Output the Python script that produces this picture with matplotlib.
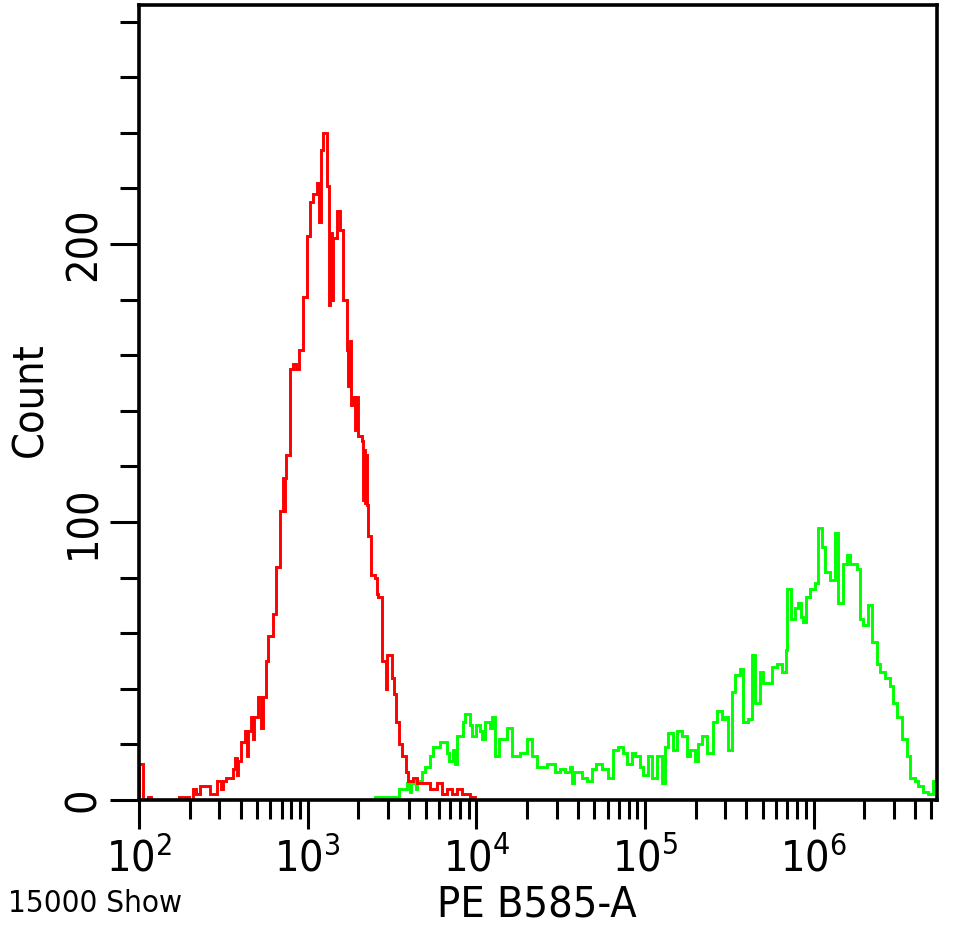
import matplotlib
matplotlib.use('Agg')
import matplotlib.pyplot as plt
import numpy as np
from matplotlib import font_manager
from matplotlib.ticker import FixedLocator, LogLocator, NullFormatter

# ---------------- data ----------------
# histogram step edges (log10 of PE B585-A intensity) and counts
red_log_edges = [2.000, 2.024, 2.053, 2.071, 2.237, 2.297, 2.320, 2.338, 2.362, 2.421,
                 2.463, 2.487, 2.500, 2.516, 2.558, 2.569, 2.581, 2.587, 2.605, 2.629,
                 2.641, 2.647, 2.664, 2.676, 2.682, 2.706, 2.724, 2.735, 2.753, 2.765,
                 2.795, 2.813, 2.836, 2.854, 2.860, 2.866, 2.872, 2.896, 2.913, 2.931,
                 2.949, 2.973, 2.996, 3.014, 3.032, 3.056, 3.068, 3.080, 3.091, 3.115,
                 3.124, 3.133, 3.142, 3.151, 3.174, 3.192, 3.210, 3.234, 3.240, 3.246,
                 3.251, 3.257, 3.269, 3.281, 3.287, 3.299, 3.323, 3.329, 3.335, 3.341,
                 3.347, 3.353, 3.358, 3.376, 3.400, 3.409, 3.418, 3.441, 3.459, 3.465,
                 3.471, 3.501, 3.512, 3.524, 3.542, 3.560, 3.584, 3.596, 3.625, 3.649,
                 3.726, 3.767, 3.797, 3.827, 3.856, 3.886, 3.916, 3.963, 3.993]
red_counts = [13, 0, 1, 0, 1, 0, 4, 2, 5, 2,
              7, 4, 7, 8, 11, 15, 9, 14, 21, 25,
              16, 25, 30, 22, 30, 37, 26, 37, 50, 59,
              67, 84, 104, 116, 104, 116, 124, 155, 157, 155,
              162, 181, 203, 215, 218, 222, 208, 234, 240, 221,
              178, 204, 180, 202, 212, 205, 180, 162, 149, 162,
              165, 142, 145, 133, 145, 131, 129, 108, 126, 107,
              124, 106, 95, 81, 80, 74, 73, 50, 50, 40,
              52, 44, 38, 28, 20, 16, 10, 7, 8, 6,
              4, 6, 2, 4, 2, 4, 2, 1]

green_log_edges = [3.400, 3.542, 3.590, 3.605, 3.614, 3.625, 3.643, 3.649, 3.678, 3.696,
                   3.726, 3.744, 3.785, 3.827, 3.838, 3.862, 3.874, 3.886, 3.922, 3.934,
                   3.963, 3.975, 3.999, 4.022, 4.034, 4.052, 4.082, 4.094, 4.111, 4.135,
                   4.183, 4.212, 4.260, 4.301, 4.331, 4.361, 4.420, 4.467, 4.497, 4.527,
                   4.556, 4.568, 4.580, 4.628, 4.657, 4.687, 4.711, 4.746, 4.782, 4.811,
                   4.841, 4.871, 4.894, 4.924, 4.942, 4.972, 4.989, 5.019, 5.043, 5.072,
                   5.102, 5.120, 5.138, 5.167, 5.191, 5.221, 5.250, 5.268, 5.298, 5.316,
                   5.339, 5.369, 5.405, 5.428, 5.458, 5.476, 5.493, 5.517, 5.535, 5.565,
                   5.582, 5.612, 5.636, 5.654, 5.683, 5.701, 5.754, 5.784, 5.814, 5.838,
                   5.843, 5.867, 5.891, 5.909, 5.926, 5.938, 5.956, 5.980, 6.010, 6.027,
                   6.051, 6.069, 6.098, 6.128, 6.146, 6.176, 6.199, 6.217, 6.259, 6.276,
                   6.294, 6.324, 6.348, 6.377, 6.395, 6.425, 6.454, 6.472, 6.496, 6.526,
                   6.555, 6.573, 6.603, 6.620, 6.650, 6.680, 6.709, 6.732]
green_counts = [1, 4, 6, 3, 6, 7, 4, 7, 10, 12,
                16, 19, 21, 17, 14, 18, 13, 23, 28, 31,
                27, 23, 27, 25, 22, 28, 26, 30, 16, 22,
                26, 16, 17, 22, 16, 12, 13, 10, 11, 10,
                12, 6, 10, 8, 7, 11, 13, 11, 8, 18,
                19, 17, 13, 17, 16, 12, 9, 16, 8, 16,
                6, 19, 24, 18, 25, 23, 16, 18, 14, 20,
                23, 17, 28, 32, 29, 30, 18, 39, 45, 47,
                28, 29, 52, 35, 46, 42, 48, 49, 46, 54,
                76, 65, 69, 71, 66, 64, 73, 76, 78, 98,
                91, 82, 79, 96, 71, 85, 88, 85, 83, 65,
                63, 70, 57, 49, 46, 44, 41, 35, 30, 22,
                16, 8, 7, 5, 3, 2, 7]

x_major_exponents = [2, 3, 4, 5, 6]
x_min, x_max = 1e2, 10 ** 6.732
y_major_ticks = [0, 100, 200]
y_minor_ticks = [20, 40, 60, 80, 120, 140, 160, 180, 220, 240, 260, 280]
y_max = 286

x_label = 'PE B585-A'
y_label = 'Count'
corner_text = '15000 Show'

# ---------------- fonts: prefer a condensed sans face ----------------
def _weight(f):
    try:
        return int(f.weight)
    except (TypeError, ValueError):
        return {'normal': 400, 'regular': 400, 'book': 400, 'medium': 500}.get(str(f.weight).lower(), 700)

def _is_condensed(f):
    s = str(f.stretch).lower()
    n = f.name.lower()
    if 'extra' in s or 'ultra' in s:
        return False
    return s in ('condensed', 'semi-condensed') or 'narrow' in n or 'condensed' in n

cands = [f for f in font_manager.fontManager.ttflist
         if _is_condensed(f) and f.style == 'normal' and 350 <= _weight(f) <= 450]
pref = ['Liberation Sans Narrow', 'DejaVu Sans', 'Arial Narrow', 'Roboto Condensed',
        'Roboto', 'Noto Sans', 'Open Sans']
chosen = None
for p in pref:
    for f in cands:
        if f.name == p:
            chosen = f
            break
    if chosen:
        break
if chosen is None and cands:
    chosen = cands[0]

if chosen is not None:
    plt.rcParams['font.family'] = [chosen.name, 'DejaVu Sans']
    plt.rcParams['font.stretch'] = chosen.stretch
    k = 1.0
else:
    plt.rcParams['font.family'] = ['DejaVu Sans']
    k = 0.82

W, H = 956, 931
fig = plt.figure(figsize=(W / 100, H / 100), dpi=100)
ax = fig.add_axes([139 / W, 131 / H, 798 / W, 795 / H])

ax.stairs(green_counts, 10 ** np.array(green_log_edges), color='#00FF00',
          linewidth=2.1, baseline=0)
ax.stairs(red_counts, 10 ** np.array(red_log_edges), color='#FF0000',
          linewidth=2.1, baseline=0)

ax.set_xscale('log')
ax.set_xlim(x_min, x_max)
ax.set_ylim(0, y_max)

ax.set_xticks([10.0 ** e for e in x_major_exponents])
ax.set_xticklabels([r'$\mathregular{10^{%d}}$' % e for e in x_major_exponents], fontsize=31 * k)
ax.xaxis.set_minor_locator(LogLocator(base=10, subs=np.arange(2, 10)))
ax.xaxis.set_minor_formatter(NullFormatter())

ax.set_yticks(y_major_ticks)
ax.set_yticklabels([str(v) for v in y_major_ticks], fontsize=31 * k, rotation=90, va='center')
ax.yaxis.set_minor_locator(FixedLocator(y_minor_ticks))

ax.tick_params(axis='both', which='major', length=21, width=2.2, direction='out', color='black')
ax.tick_params(axis='both', which='minor', length=14, width=2.2, direction='out', color='black')
ax.tick_params(axis='x', which='major', pad=6)
ax.tick_params(axis='y', which='major', pad=4)

for sp in ax.spines.values():
    sp.set_linewidth(2.6)
    sp.set_color('black')

fig.text(30 / W, 1 - 400 / H, y_label, rotation=90, ha='center', va='center', fontsize=31 * k)
fig.text(537 / W, 1 - 918 / H, x_label, ha='center', va='baseline', fontsize=31 * k)
fig.text(8 / W, 1 - 912 / H, corner_text, ha='left', va='baseline', fontsize=22.5 * k)

fig.savefig('out.png', dpi=100)
